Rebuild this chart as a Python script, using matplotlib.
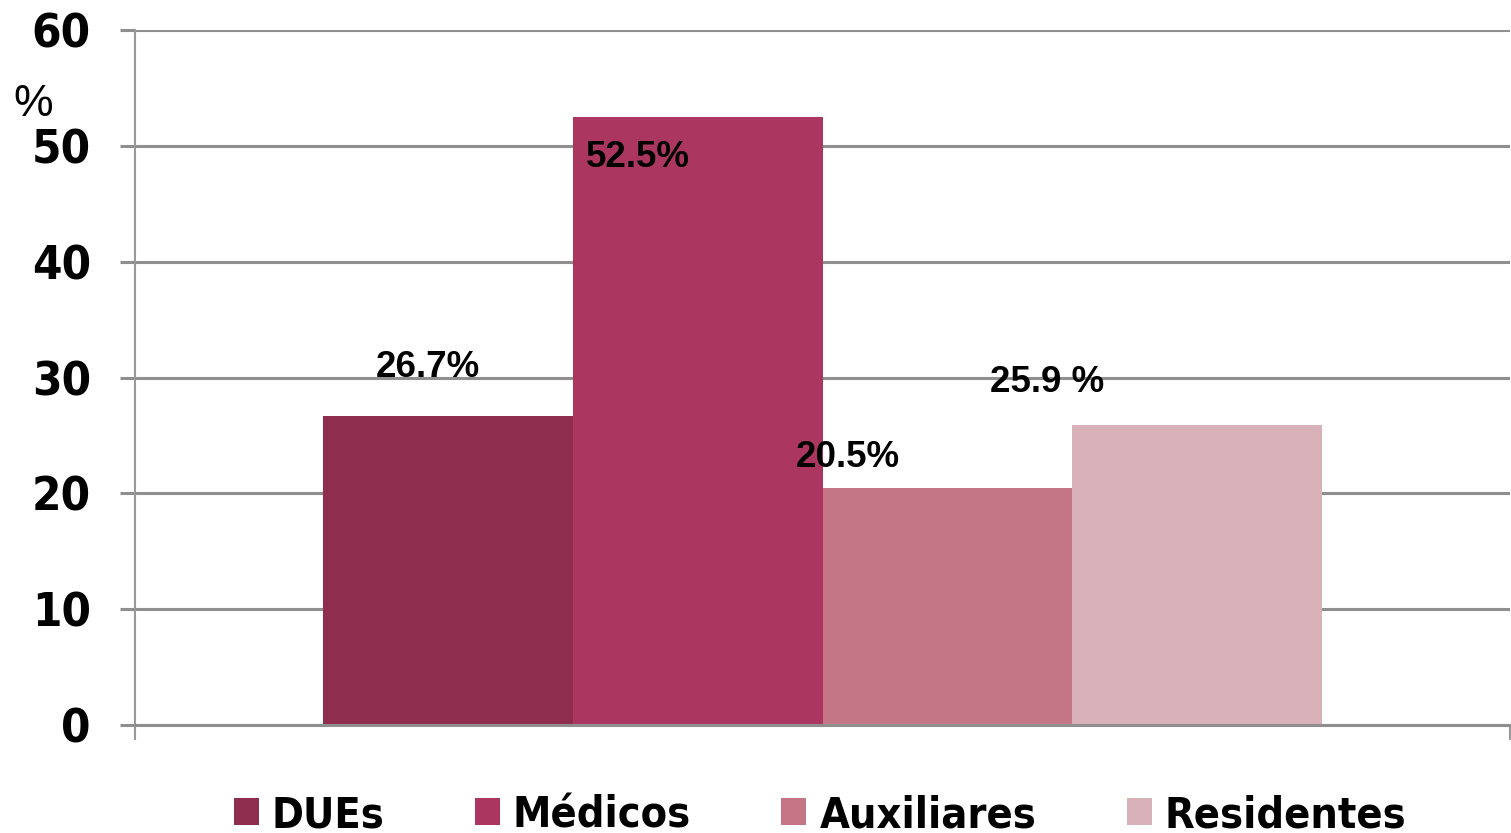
import matplotlib.pyplot as plt
from matplotlib.patches import Patch
import numpy as np

# Data
groups = ["DUEs", "Médicos", "Auxiliares", "Residentes"]
values = [26.7, 52.5, 20.5, 25.9]
labels = ["26.7%", "52.5%", "20.5%", "25.9 %"]
colors = ["#8e2d4e", "#ab3760", "#c47687", "#d9b1b9"]

# label offsets relative to bar centre / bar top (x in bar widths, y in %)
label_dx = [-0.08, -0.24, -0.40, -0.60]
label_dy = [4.2, -3.5, 2.6, 3.7]

grid_col = "#8f8f8f"
cond = {"family": "DejaVu Sans", "stretch": "condensed", "weight": "bold"}

fig = plt.figure(figsize=(15.11, 8.33), dpi=100)
ax = fig.add_axes([135 / 1511, 108 / 833, 1375 / 1511, 695 / 833])

w = 0.1818
xs = (np.arange(len(values)) - 1.5) * w
ax.bar(xs, values, width=w, color=colors, zorder=3)

for x, v, lab, dx, dy in zip(xs, values, labels, label_dx, label_dy):
    ax.text(x + dx * w, v + dy, lab, ha="center", va="center",
            fontsize=26.5, fontweight="bold", family="Liberation Sans", zorder=4)

ax.set_xlim(-0.5, 0.5)
ax.set_ylim(0, 60)
ax.set_yticks(range(0, 61, 10))
ax.set_xticks([-0.5, 0.5])
ax.set_xticklabels([])

ax.yaxis.grid(True, color=grid_col, linewidth=2.2, zorder=0)
ax.set_axisbelow(True)
for s in ["top", "right"]:
    ax.spines[s].set_visible(False)
ax.spines["left"].set_color("#999999")
ax.spines["left"].set_linewidth(1.5)
ax.spines["bottom"].set_color(grid_col)
ax.spines["bottom"].set_linewidth(2.2)
ax.spines["bottom"].set_zorder(5)

ax.tick_params(axis="y", length=10.8, width=2.2, color=grid_col, pad=21)
ax.tick_params(axis="x", length=10.8, width=1.5, color="#999999")
for t in ax.get_yticklabels():
    t.set_fontproperties(dict(cond, size=34))

fig.text(33 / 1511, 1 - 104 / 833, "%", ha="center", va="center",
         fontsize=32, family="Liberation Sans")

handles = [Patch(facecolor=c, edgecolor="none") for c in colors]
fig.legend(handles, groups, loc="center", ncol=4, frameon=False,
           bbox_to_anchor=(820 / 1511, 1 - 815 / 833),
           prop=dict(cond, size=31),
           handlelength=0.58, handleheight=0.58, handletextpad=0.3,
           columnspacing=2.1)

fig.savefig("out.png", dpi=100)
